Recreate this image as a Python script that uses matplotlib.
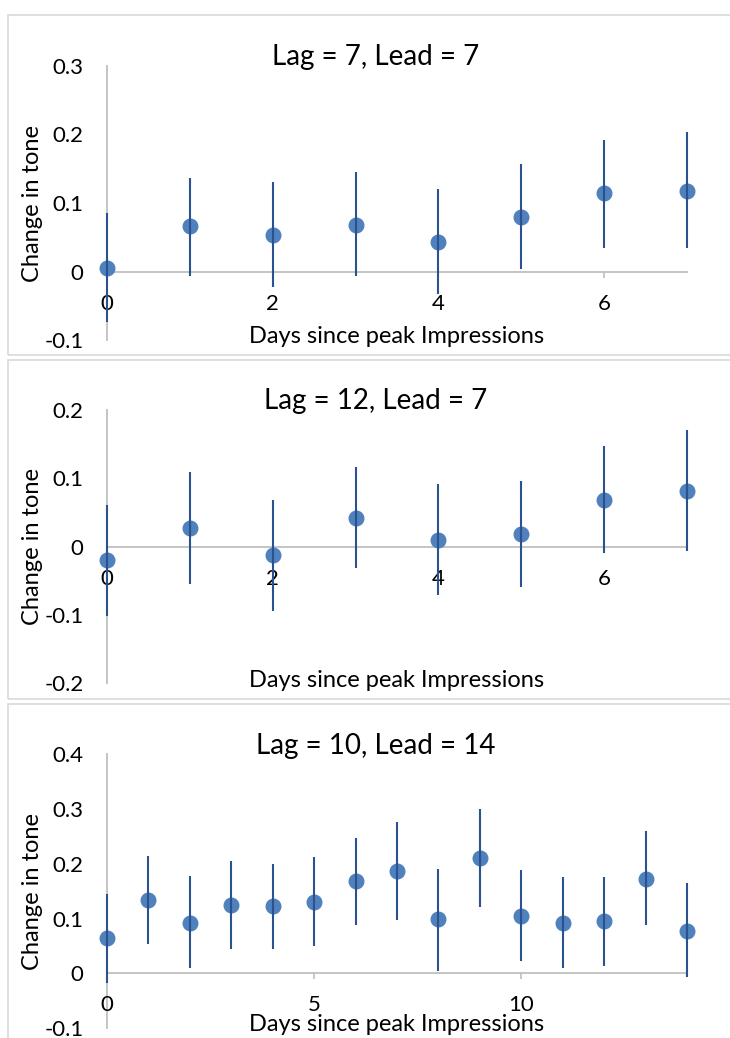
import matplotlib.pyplot as plt
from matplotlib.patches import Rectangle

plt.rcParams['font.family'] = ['Lato', 'DejaVu Sans']

# panel 1: Lag = 7, Lead = 7
days_a = [0, 1, 2, 3, 4, 5, 6, 7]
tone_a = [0.005, 0.066, 0.054, 0.068, 0.043, 0.080, 0.115, 0.118]
low_a = [-0.074, -0.006, -0.022, -0.007, -0.033, 0.004, 0.035, 0.034]
high_a = [0.085, 0.136, 0.130, 0.145, 0.120, 0.157, 0.192, 0.203]

# panel 2: Lag = 12, Lead = 7
days_b = [0, 1, 2, 3, 4, 5, 6, 7]
tone_b = [-0.020, 0.027, -0.012, 0.042, 0.010, 0.019, 0.069, 0.081]
low_b = [-0.102, -0.055, -0.094, -0.031, -0.071, -0.059, -0.010, -0.006]
high_b = [0.061, 0.109, 0.069, 0.117, 0.091, 0.096, 0.147, 0.171]

# panel 3: Lag = 10, Lead = 14
days_c = list(range(15))
tone_c = [0.064, 0.134, 0.092, 0.124, 0.122, 0.130, 0.169, 0.187,
          0.099, 0.211, 0.105, 0.092, 0.096, 0.173, 0.078]
low_c = [-0.018, 0.053, 0.009, 0.044, 0.044, 0.049, 0.089, 0.097,
         0.005, 0.121, 0.023, 0.009, 0.014, 0.088, -0.007]
high_c = [0.145, 0.214, 0.177, 0.205, 0.200, 0.213, 0.247, 0.277,
          0.190, 0.300, 0.189, 0.176, 0.175, 0.259, 0.164]

titles = ["Lag = 7, Lead = 7", "Lag = 12, Lead = 7", "Lag = 10, Lead = 14"]
ylims = [(-0.1, 0.3), (-0.2, 0.2), (-0.1, 0.4)]
yticks = [[-0.1, 0, 0.1, 0.2, 0.3], [-0.2, -0.1, 0, 0.1, 0.2], [-0.1, 0, 0.1, 0.2, 0.3, 0.4]]
xticks = [[0, 2, 4, 6], [0, 2, 4, 6], [0, 5, 10]]
series = [(days_a, tone_a, low_a, high_a),
          (days_b, tone_b, low_b, high_b),
          (days_c, tone_c, low_c, high_c)]

W, H = 730, 1038
fig = plt.figure(figsize=(W / 100, H / 100), dpi=100)

# panel frames and plot areas, in pixels from top-left
frames = [(15, 355), (360, 699), (704, 1050)]
areas = [(66, 340), (410, 683.3), (754.3, 1028)]
left, right = 107, 687

blue = "#4F81BD"
dark = "#2A5290"
grey = "#BFBFBF"

for i in range(3):
    ft, fb = frames[i]
    fig.patches.append(Rectangle((8 / W, 1 - fb / H), 740 / W, (fb - ft) / H,
                                 transform=fig.transFigure, fill=False,
                                 edgecolor="#D9D9D9", linewidth=1.2))
    top, bot = areas[i]
    ax = fig.add_axes([left / W, 1 - bot / H, (right - left) / W, (bot - top) / H])
    days, tone, low, high = series[i]
    err = [[t - l for t, l in zip(tone, low)], [h - t for t, h in zip(tone, high)]]

    ax.plot(days, tone, 'o', color=blue, markersize=10.5, zorder=3, clip_on=False)
    ax.errorbar(days, tone, yerr=err, fmt='none', ecolor=dark, elinewidth=1.5,
                capsize=0, zorder=4, clip_on=False)

    ax.set_xlim(days[0], days[-1])
    ax.set_ylim(*ylims[i])
    ax.set_yticks(yticks[i])
    ax.set_yticklabels(["%g" % v for v in yticks[i]])
    ax.set_xticks(xticks[i])

    for s in ['top', 'right']:
        ax.spines[s].set_visible(False)
    ax.spines['left'].set_color(grey)
    ax.spines['left'].set_linewidth(1.3)
    ax.spines['bottom'].set_position(('data', 0))
    ax.spines['bottom'].set_color(grey)
    ax.spines['bottom'].set_linewidth(1.3)
    ax.spines['left'].set_zorder(1)
    ax.spines['bottom'].set_zorder(1)

    ax.tick_params(axis='y', length=0, pad=17, labelsize=16)
    ax.tick_params(axis='x', length=4, width=1.2, color=grey, pad=12, labelsize=16)

    ax.set_ylabel("Change in tone", fontsize=17)
    ax.yaxis.set_label_coords(-0.129, 0.5)
    ax.yaxis.label.set_va('center')
    ax.set_xlabel("Days since peak Impressions", fontsize=17)
    ax.xaxis.set_label_coords(0.5, 0.012)
    ax.xaxis.label.set_va('center')

    ax.text(0.463, 1.032, titles[i], transform=ax.transAxes, ha='center',
            va='center', fontsize=20)
    ax.patch.set_visible(False)

fig.savefig("out.png", dpi=100)
